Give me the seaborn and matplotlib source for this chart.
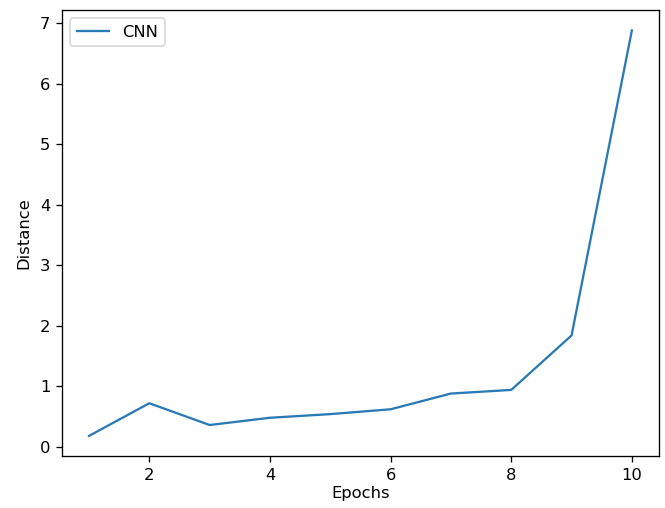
import matplotlib
matplotlib.use('Agg')
import matplotlib.pyplot as plt
import seaborn as sns
import pandas as pd

# values
epochs = [1, 2, 3, 4, 5, 6, 7, 8, 9, 10]
distance = [0.18, 0.72, 0.36, 0.48, 0.54, 0.62, 0.88, 0.94, 1.84, 6.88]
series_name = 'CNN'

df = pd.DataFrame({'Epochs': epochs, 'Distance': distance})

# reference looks like a default figure scaled up, so use a higher dpi
dpi = 118
fig, ax = plt.subplots(figsize=(665 / dpi, 508 / dpi), dpi=dpi)
sns.lineplot(data=df, x='Epochs', y='Distance', color='#2a7ab5', linewidth=1.4, label=series_name, ax=ax)

ax.set_xlabel('Epochs', labelpad=2)
ax.set_ylabel('Distance', labelpad=5)
ax.legend(loc='upper left')

plt.subplots_adjust(left=0.093, right=0.991, top=0.980, bottom=0.102)
plt.savefig('out.png', dpi=dpi)
